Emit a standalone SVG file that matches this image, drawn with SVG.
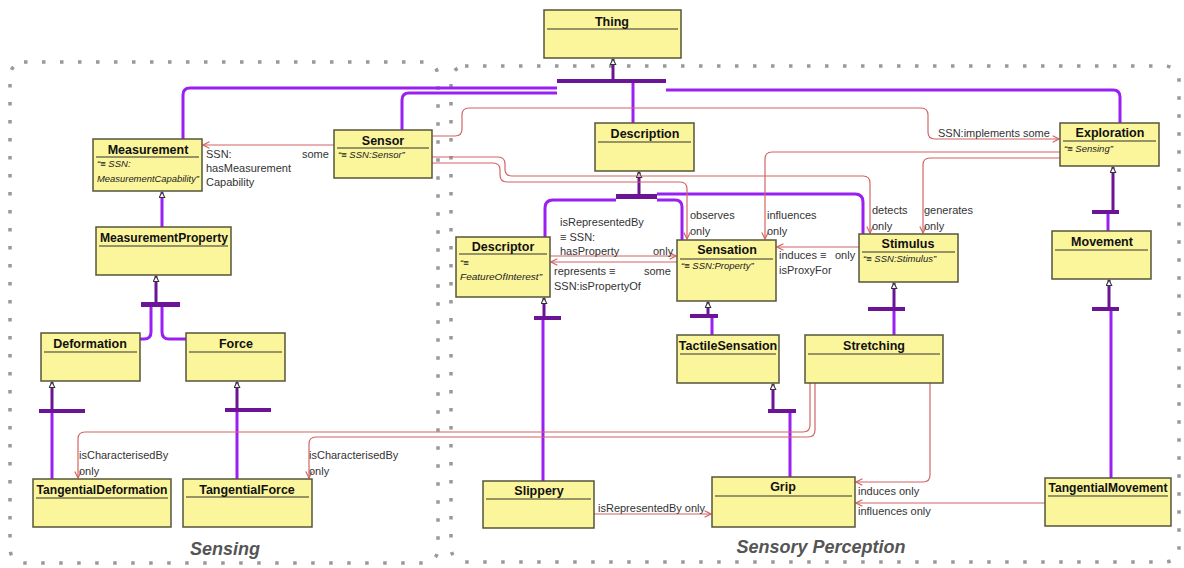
<svg xmlns="http://www.w3.org/2000/svg" width="1184" height="568" viewBox="0 0 1184 568">
<style>
.box{fill:#fbf59c;stroke:#55553a;stroke-width:1.5}
.hl{stroke:#333;stroke-width:1.2}
.t{font-family:"Liberation Sans",Arial,sans-serif;font-weight:bold;font-size:12.5px;fill:#111;text-anchor:middle}
.s{font-family:"Liberation Sans",Arial,sans-serif;font-style:italic;font-size:9.5px;fill:#222}
.l{font-family:"Liberation Sans",Arial,sans-serif;font-size:11px;fill:#333}
.p{stroke:#9a1ff2;stroke-width:3;fill:none}
.pm{stroke:#9a1ff2;stroke-width:3;fill:none;marker-end:url(#tri)}
.d{stroke:#6b1596;stroke-width:3;fill:none;marker-end:url(#tri)}
.bar{fill:#6b1596}
.r{stroke:#d26565;stroke-width:1.2;fill:none;marker-end:url(#arr)}
.grp{fill:none;stroke:#999;stroke-width:3.5;stroke-dasharray:3.5 14.5}
.gl{font-family:"Liberation Sans",Arial,sans-serif;font-style:italic;font-weight:bold;font-size:18px;fill:#555;text-anchor:middle}
</style>
<defs>
<marker id="tri" viewBox="0 0 10 10" refX="9" refY="5" markerWidth="7" markerHeight="7" markerUnits="userSpaceOnUse" orient="auto">
<path d="M1,1 L9,5 L1,9 Z" fill="#fff" stroke="#333" stroke-width="1.5"/>
</marker>
<marker id="arr" viewBox="0 0 10 10" refX="9" refY="5" markerWidth="8" markerHeight="8" markerUnits="userSpaceOnUse" orient="auto">
<path d="M1,1 L9,5 L1,9" fill="none" stroke="#d26565" stroke-width="1.5"/>
</marker>
</defs>
<rect width="1184" height="568" fill="#fff"/>
<g id="groups">
<rect class="grp" x="10" y="62" width="428" height="501" rx="14"/>
<rect class="grp" x="451" y="66" width="728" height="496" rx="14"/>
<text class="gl" x="225" y="555">Sensing</text>
<text class="gl" x="821" y="553">Sensory Perception</text>
</g>
<g id="connectors">
<path class="d" d="M613,81 L613,59"/>
<rect class="bar" x="557" y="79" width="109" height="4"/>
<path class="p" d="M557,88 L190,88 Q183,88 183,95 L183,139"/>
<path class="p" d="M557,93 L409,93 Q402,93 402,100 L402,130"/>
<path class="p" d="M633,83 L633,123"/>
<path class="p" d="M666,90 L1113,90 Q1120,90 1120,97 L1120,123"/>
<path class="d" d="M639,195 L639,172"/>
<rect class="bar" x="616" y="194" width="41" height="5"/>
<path class="p" d="M616,200 L553,200 Q545,200 545,208 L545,237"/>
<path class="p" d="M657,200 L675,200 Q682,200 682,207 L682,240"/>
<path class="p" d="M657,194 L855,194 Q863,194 863,202 L863,234"/>
<path class="pm" d="M162,227 L162,192"/>
<path class="d" d="M156,303 L156,276"/>
<rect class="bar" x="141" y="302" width="39" height="5"/>
<path class="p" d="M151,307 L151,332 Q151,339 144,339 L140,339"/>
<path class="p" d="M162,307 L162,332 Q162,339 169,339 L186,339"/>
<path class="d" d="M52,410 L52,382"/>
<rect class="bar" x="39" y="409" width="46" height="4"/>
<path class="p" d="M52,413 L52,479"/>
<path class="d" d="M237,409 L237,382"/>
<rect class="bar" x="225" y="408" width="46" height="4"/>
<path class="p" d="M237,412 L237,479"/>
<path class="d" d="M544,317 L544,298"/>
<rect class="bar" x="534" y="316" width="27" height="4"/>
<path class="p" d="M543,320 L543,481"/>
<path class="d" d="M708,315 L708,302"/>
<rect class="bar" x="690" y="314" width="28" height="4"/>
<path class="p" d="M712,318 L712,335"/>
<path class="d" d="M773,410 L773,384"/>
<rect class="bar" x="768" y="409" width="28" height="4"/>
<path class="p" d="M790,413 L790,477"/>
<path class="d" d="M894,308 L894,283"/>
<rect class="bar" x="868" y="307" width="37" height="4"/>
<path class="p" d="M894,311 L894,335"/>
<path class="d" d="M1113,211 L1113,167"/>
<rect class="bar" x="1092" y="210" width="27" height="4"/>
<path class="p" d="M1108,214 L1108,231"/>
<path class="d" d="M1109,308 L1109,280"/>
<rect class="bar" x="1092" y="307" width="27" height="4"/>
<path class="p" d="M1111,311 L1111,478"/>
<path class="r" d="M334,145 L203,145"/>
<path class="r" d="M432,136 L455,136 Q462,136 462,129 L462,115 Q462,108 469,108 L921,108 Q928,108 928,115 L928,132 Q928,139 935,139 L1059,139"/>
<path class="r" d="M432,157 L498,157 Q505,157 505,164 L505,169 Q505,176 512,176 L863,176 Q870,176 870,183 L870,233"/>
<path class="r" d="M432,163 L493,163 Q500,163 500,170 L500,175 Q500,182 507,182 L680,182 Q687,182 687,189 L687,239"/>
<path class="r" d="M1060,152 L772,152 Q765,152 765,159 L765,239"/>
<path class="r" d="M1060,158 L930,158 Q923,158 923,165 L923,233"/>
<path class="r" d="M550,256 L676,256"/>
<path class="r" d="M677,262 L551,262"/>
<path class="r" d="M859,247 L777,247"/>
<path class="r" d="M810,383 L810,425 Q810,432 803,432 L85,432 Q78,432 78,439 L78,478"/>
<path class="r" d="M815,383 L815,430 Q815,437 808,437 L316,437 Q309,437 309,444 L309,478"/>
<path class="r" d="M930,383 L930,475 Q930,482 923,482 L856,482"/>
<path class="r" d="M1045,503 L856,503"/>
<path class="r" d="M594,514 L711,514"/>
<text class="l" x="206" y="158">SSN:</text>
<text class="l" x="206" y="172">hasMeasurement</text>
<text class="l" x="206" y="186">Capability</text>
<text class="l" x="302" y="158">some</text>
<text class="l" x="938" y="137">SSN:implements  some</text>
<text class="l" x="690" y="219">observes</text>
<text class="l" x="690" y="235">only</text>
<text class="l" x="767" y="219">influences</text>
<text class="l" x="767" y="235">only</text>
<text class="l" x="872" y="214">detects</text>
<text class="l" x="872" y="230">only</text>
<text class="l" x="924" y="214">generates</text>
<text class="l" x="924" y="230">only</text>
<text class="l" x="560" y="226">isRepresentedBy</text>
<text class="l" x="560" y="241">≡ SSN:</text>
<text class="l" x="560" y="255">hasProperty</text>
<text class="l" x="653" y="255">only</text>
<text class="l" x="554" y="275">represents ≡</text>
<text class="l" x="554" y="290">SSN:isPropertyOf</text>
<text class="l" x="644" y="275">some</text>
<text class="l" x="779" y="259">induces ≡</text>
<text class="l" x="835" y="259">only</text>
<text class="l" x="779" y="274">isProxyFor</text>
<text class="l" x="79" y="459">isCharacterisedBy</text>
<text class="l" x="79" y="475">only</text>
<text class="l" x="309" y="459">isCharacterisedBy</text>
<text class="l" x="309" y="475">only</text>
<text class="l" x="858" y="495">induces  only</text>
<text class="l" x="858" y="515">influences  only</text>
<text class="l" x="598" y="512">isRepresentedBy  only</text>
</g>
<g id="Thing"><rect class="box" x="544" y="10" width="137" height="48"/><line class="hl" x1="547" y1="29" x2="678" y2="29"/><text class="t" x="612" y="26">Thing</text></g>
<g id="Measurement"><rect class="box" x="93" y="139" width="109" height="52"/><line class="hl" x1="96" y1="157" x2="199" y2="157"/><text class="t" x="148" y="154">Measurement</text><text class="s" x="97" y="167">“≡ SSN:</text><text class="s" x="97" y="182" textLength="102" lengthAdjust="spacingAndGlyphs">MeasurementCapability”</text></g>
<g id="Sensor"><rect class="box" x="334" y="130" width="98" height="48"/><line class="hl" x1="337" y1="148" x2="429" y2="148"/><text class="t" x="383" y="145">Sensor</text><text class="s" x="338" y="158">“≡ SSN:Sensor”</text></g>
<g id="Description"><rect class="box" x="595" y="123" width="99" height="48"/><line class="hl" x1="598" y1="142" x2="691" y2="142"/><text class="t" x="645" y="138">Description</text></g>
<g id="Exploration"><rect class="box" x="1060" y="123" width="99" height="43"/><line class="hl" x1="1063" y1="141" x2="1156" y2="141"/><text class="t" x="1110" y="137">Exploration</text><text class="s" x="1064" y="152">“≡ Sensing”</text></g>
<g id="MeasurementProperty"><rect class="box" x="96" y="227" width="135" height="48"/><line class="hl" x1="99" y1="246" x2="228" y2="246"/><text class="t" x="164" y="242" textLength="128" lengthAdjust="spacingAndGlyphs">MeasurementProperty</text></g>
<g id="Deformation"><rect class="box" x="41" y="333" width="99" height="48"/><line class="hl" x1="44" y1="352" x2="137" y2="352"/><text class="t" x="90" y="348">Deformation</text></g>
<g id="Force"><rect class="box" x="186" y="333" width="99" height="48"/><line class="hl" x1="189" y1="352" x2="282" y2="352"/><text class="t" x="236" y="348">Force</text></g>
<g id="Descriptor"><rect class="box" x="456" y="237" width="94" height="60"/><line class="hl" x1="459" y1="254" x2="547" y2="254"/><text class="t" x="503" y="251">Descriptor</text><text class="s" x="460" y="266">“≡</text><text class="s" x="460" y="280" textLength="82" lengthAdjust="spacingAndGlyphs">FeatureOfInterest”</text></g>
<g id="Sensation"><rect class="box" x="677" y="240" width="99" height="61"/><line class="hl" x1="680" y1="259" x2="773" y2="259"/><text class="t" x="727" y="254">Sensation</text><text class="s" x="681" y="269">“≡ SSN:Property”</text></g>
<g id="Stimulus"><rect class="box" x="859" y="234" width="99" height="48"/><line class="hl" x1="862" y1="252" x2="955" y2="252"/><text class="t" x="908" y="248">Stimulus</text><text class="s" x="863" y="262">“≡ SSN:Stimulus”</text></g>
<g id="Movement"><rect class="box" x="1052" y="231" width="99" height="48"/><line class="hl" x1="1055" y1="250" x2="1148" y2="250"/><text class="t" x="1102" y="246">Movement</text></g>
<g id="TactileSensation"><rect class="box" x="677" y="335" width="102" height="48"/><line class="hl" x1="680" y1="354" x2="776" y2="354"/><text class="t" x="728" y="350">TactileSensation</text></g>
<g id="Stretching"><rect class="box" x="805" y="335" width="138" height="48"/><line class="hl" x1="808" y1="354" x2="940" y2="354"/><text class="t" x="874" y="350">Stretching</text></g>
<g id="TangentialDeformation"><rect class="box" x="33" y="479" width="138" height="48"/><line class="hl" x1="36" y1="498" x2="168" y2="498"/><text class="t" x="102" y="494" textLength="131" lengthAdjust="spacingAndGlyphs">TangentialDeformation</text></g>
<g id="TangentialForce"><rect class="box" x="183" y="479" width="129" height="48"/><line class="hl" x1="186" y1="497" x2="309" y2="497"/><text class="t" x="247" y="494">TangentialForce</text></g>
<g id="Slippery"><rect class="box" x="483" y="481" width="111" height="47"/><line class="hl" x1="486" y1="499" x2="591" y2="499"/><text class="t" x="539" y="495">Slippery</text></g>
<g id="Grip"><rect class="box" x="712" y="477" width="143" height="50"/><line class="hl" x1="715" y1="496" x2="852" y2="496"/><text class="t" x="783" y="491">Grip</text></g>
<g id="TangentialMovement"><rect class="box" x="1045" y="478" width="126" height="48"/><line class="hl" x1="1048" y1="496" x2="1168" y2="496"/><text class="t" x="1108" y="492" textLength="119" lengthAdjust="spacingAndGlyphs">TangentialMovement</text></g>
</svg>
